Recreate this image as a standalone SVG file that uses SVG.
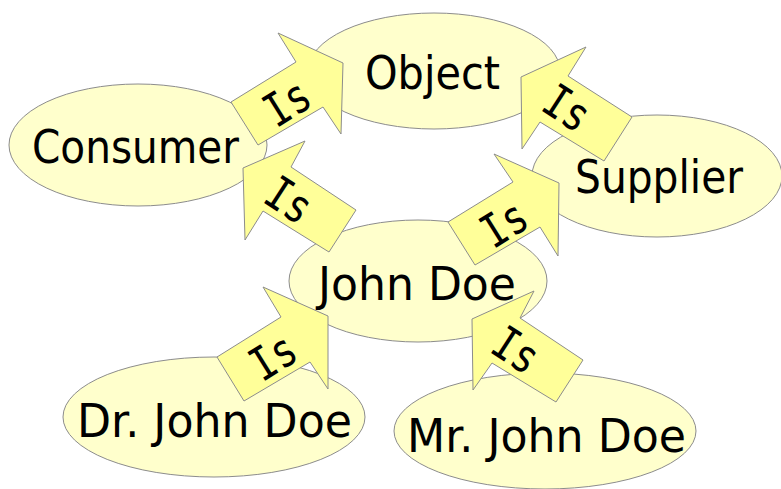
<svg xmlns="http://www.w3.org/2000/svg" width="781" height="489" viewBox="0 0 781 489">
  <style>
    .node ellipse { fill: #FFFFCC; stroke: #8C8C8C; stroke-width: 1; }
    .node text { font-family: "DejaVu Sans", Verdana, sans-serif; font-size: 46px; fill: #000; text-anchor: start; }
    .arrow polygon { fill: #FFFF99; stroke: #8C8C8C; stroke-width: 1; stroke-linejoin: miter; }
    .arrow text { font-family: "DejaVu Sans Mono", monospace; font-size: 46px; fill: #000; text-anchor: middle; }
  </style>
  <rect width="781" height="489" fill="#FFFFFF"/>

  <g id="object" class="node">
    <ellipse cx="434" cy="71" rx="126" ry="58"/>
    <text x="365" y="89" textLength="135" lengthAdjust="spacingAndGlyphs">Object</text>
  </g>
  <g id="consumer" class="node">
    <ellipse cx="138" cy="145" rx="129" ry="61"/>
    <text x="32" y="163" textLength="207" lengthAdjust="spacingAndGlyphs">Consumer</text>
  </g>
  <g id="supplier" class="node">
    <ellipse cx="657" cy="176" rx="125" ry="61"/>
    <text x="575" y="193" textLength="168" lengthAdjust="spacingAndGlyphs">Supplier</text>
  </g>
  <g id="john-doe" class="node">
    <ellipse cx="418" cy="281" rx="129" ry="61"/>
    <text x="318" y="300" textLength="198" lengthAdjust="spacingAndGlyphs">John Doe</text>
  </g>
  <g id="dr-john-doe" class="node">
    <ellipse cx="214" cy="417" rx="151" ry="60"/>
    <text x="77" y="437" textLength="275" lengthAdjust="spacingAndGlyphs">Dr. John Doe</text>
  </g>
  <g id="mr-john-doe" class="node">
    <ellipse cx="545" cy="431" rx="151" ry="58"/>
    <text x="407" y="452" textLength="279" lengthAdjust="spacingAndGlyphs">Mr. John Doe</text>
  </g>

  <!-- block arrows labelled "Is" -->
  <g id="connectors">
    <g id="consumer-is-object" class="arrow">
      <polygon points="231,102 296,62 278,33 343,63 341,134 323,107 258,145"/>
      <text transform="translate(287,103) rotate(-32)" y="16" textLength="46" lengthAdjust="spacingAndGlyphs">Is</text>
    </g>
    <g id="supplier-is-object" class="arrow">
      <polygon points="521,77 586,47 568,76 632,117 604,161 540,122 522,149"/>
      <text transform="translate(567,108) rotate(33)" y="16" textLength="46" lengthAdjust="spacingAndGlyphs">Is</text>
    </g>
    <g id="johndoe-is-consumer" class="arrow">
      <polygon points="243,168 305,141 291,167 356,210 329,252 263,211 245,240"/>
      <text transform="translate(289,200) rotate(33)" y="16" textLength="46" lengthAdjust="spacingAndGlyphs">Is</text>
    </g>
    <g id="johndoe-is-supplier" class="arrow">
      <polygon points="448,222 513,182 494,154 559,183 558,256 540,227 475,265"/>
      <text transform="translate(504,224) rotate(-32)" y="16" textLength="46" lengthAdjust="spacingAndGlyphs">Is</text>
    </g>
    <g id="drjohndoe-is-johndoe" class="arrow">
      <polygon points="217,357 281,317 263,287 328,316 328,389 310,362 244,401"/>
      <text transform="translate(273,357) rotate(-32)" y="16" textLength="46" lengthAdjust="spacingAndGlyphs">Is</text>
    </g>
    <g id="mrjohndoe-is-johndoe" class="arrow">
      <polygon points="472,319 534,291 520,318 583,360 556,402 492,363 473,390"/>
      <text transform="translate(516,350) rotate(33)" y="16" textLength="46" lengthAdjust="spacingAndGlyphs">Is</text>
    </g>
  </g>
</svg>
